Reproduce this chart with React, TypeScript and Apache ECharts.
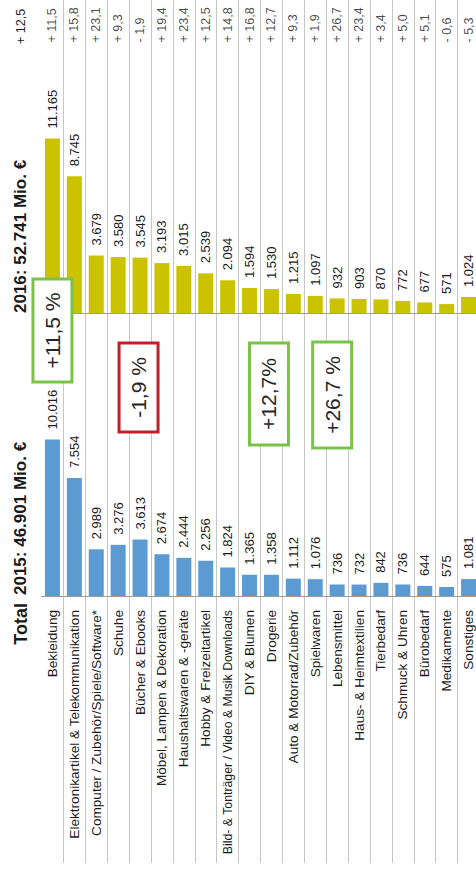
import React, { useEffect, useRef } from 'react';
import * as echarts from 'echarts';

const categories = [
  'Bekleidung',
  'Elektronikartikel & Telekommunikation',
  'Computer / Zubehör/Spiele/Software*',
  'Schuhe',
  'Bücher & Ebooks',
  'Möbel, Lampen & Dekoration',
  'Haushaltswaren & -geräte',
  'Hobby & Freizeitartikel',
  'Bild- & Tonträger / Video & Musik Downloads',
  'DIY & Blumen',
  'Drogerie',
  'Auto & Motorrad/Zubehör',
  'Spielwaren',
  'Lebensmittel',
  'Haus- & Heimtextilien',
  'Tierbedarf',
  'Schmuck & Uhren',
  'Bürobedarf',
  'Medikamente',
  'Sonstiges',
];

const sales2015 = [10016, 7554, 2989, 3276, 3613, 2674, 2444, 2256, 1824, 1365, 1358, 1112, 1076, 736, 732, 842, 736, 644, 575, 1081];
const sales2016 = [11165, 8745, 3679, 3580, 3545, 3193, 3015, 2539, 2094, 1594, 1530, 1215, 1097, 932, 903, 870, 772, 677, 571, 1024];
const changePct = [11.5, 15.8, 23.1, 9.3, -1.9, 19.4, 23.4, 12.5, 14.8, 16.8, 12.7, 9.3, 1.9, 26.7, 23.4, 3.4, 5.0, 5.1, -0.6, -5.3];

const total2015Label = '2015: 46.901 Mio. €';
const total2016Label = '2016: 52.741 Mio. €';
const totalLabel = 'Total';
const totalChange = 12.5;

const calloutCategories = ['Bekleidung', 'Bücher & Ebooks', 'Drogerie', 'Lebensmittel'];
const calloutTexts = ['+11,5 %', '-1,9 %', '+12,7%', '+26,7 %'];
const calloutPositive = [true, false, true, true];

const FONT = "'Liberation Sans', Arial, Helvetica, sans-serif";
const BLUE = '#5b9bd1';
const YELLOW = '#cbc200';
const GREEN = '#7cc24a';
const RED = '#c0202a';
const TEXT = '#1a1a1a';

const BAND_LEFT = 41.5;
const BAND_WIDTH = 438;
const SCALE_MAX = 12000;
const PLOT_H = 187.5;
const BASE16 = 313;
const BASE15 = 596;

const fmtNum = (n: number) =>
  n >= 1000 ? `${Math.floor(n / 1000)}.${String(n % 1000).padStart(3, '0')}` : String(n);
const fmtPct = (p: number) => `${p < 0 ? '-' : '+'} ${Math.abs(p).toFixed(1).replace('.', ',')}`;

export default function App() {
  const ref = useRef<HTMLDivElement>(null);

  useEffect(() => {
    const chart = echarts.init(ref.current!, null, { renderer: 'svg' });

    const grid = (top: number, height: number) => ({
      left: BAND_LEFT,
      width: BAND_WIDTH,
      top,
      height,
      containLabel: false,
      outerBoundsMode: 'none',
    });

    const valueLabel = {
      show: true,
      position: 'top',
      distance: 10,
      rotate: 90,
      align: 'left',
      verticalAlign: 'middle',
      fontSize: 13,
      color: TEXT,
      fontFamily: FONT,
      formatter: (p: any) => fmtNum(p.value),
    };

    const baseAxisLine = { show: true, onZero: false, lineStyle: { color: '#9c9c9c', width: 1 } };

    const option: any = {
      animation: false,
      backgroundColor: '#ffffff',
      grid: [grid(BASE16 - PLOT_H, PLOT_H), grid(BASE15 - PLOT_H, PLOT_H), grid(0, 863), grid(0, 43)],
      xAxis: [
        {
          gridIndex: 0,
          type: 'category',
          data: categories,
          axisLine: baseAxisLine,
          axisTick: { show: false },
          axisLabel: { show: false },
          splitLine: { show: false },
        },
        {
          gridIndex: 1,
          type: 'category',
          data: categories.map((c) =>
            c.length > 40 ? { value: c, textStyle: { fontSize: 12.3 } } : c
          ),
          axisLine: baseAxisLine,
          axisTick: { show: false },
          axisLabel: {
            show: true,
            interval: 0,
            rotate: 90,
            margin: 14,
            fontSize: 13.6,
            color: TEXT,
            fontFamily: FONT,
          },
          splitLine: { show: false },
        },
        {
          gridIndex: 2,
          type: 'category',
          data: categories,
          axisLine: { show: false },
          axisTick: { show: false },
          axisLabel: { show: false },
          splitLine: {
            show: true,
            showMinLine: false,
            interval: 0,
            lineStyle: { color: '#c6c6c6', width: 1 },
          },
        },
        {
          gridIndex: 3,
          type: 'category',
          data: categories,
          show: false,
        },
      ],
      yAxis: [0, 1, 2, 3].map((i) => ({
        gridIndex: i,
        type: 'value',
        min: 0,
        max: i < 2 ? SCALE_MAX : 1,
        show: false,
      })),
      series: [
        {
          name: '2016',
          type: 'bar',
          xAxisIndex: 0,
          yAxisIndex: 0,
          data: sales2016,
          barWidth: 15,
          itemStyle: { color: YELLOW },
          label: valueLabel,
          z: 3,
        },
        {
          name: '2015',
          type: 'bar',
          xAxisIndex: 1,
          yAxisIndex: 1,
          data: sales2015,
          barWidth: 15,
          itemStyle: { color: BLUE },
          label: valueLabel,
          z: 3,
        },
        {
          name: 'Veränderung',
          type: 'scatter',
          xAxisIndex: 3,
          yAxisIndex: 3,
          data: changePct.map(() => 0),
          symbolSize: 1,
          itemStyle: { color: 'rgba(0,0,0,0)' },
          label: {
            show: true,
            position: 'top',
            distance: 0,
            rotate: 90,
            align: 'left',
            verticalAlign: 'middle',
            fontSize: 12.5,
            color: TEXT,
            fontFamily: FONT,
            formatter: (p: any) => fmtPct(changePct[p.dataIndex]),
          },
        },
      ],
    };

    chart.setOption(option);

    const headerX = BAND_LEFT / 2;
    const boxW = 39;
    const boxY = [
      [279, 382],
      [343, 432],
      [343, 445],
      [342, 448],
    ];
    const boxDx = [0, -1.5, -2.5, -5];

    const callouts = calloutCategories.map((cat, i) => {
      const idx = categories.indexOf(cat);
      const pt = chart.convertToPixel({ gridIndex: 1 }, [idx, 0]) as number[];
      const cx = pt[0] + boxDx[i];
      const [y0, y1] = boxY[i];
      const color = calloutPositive[i] ? GREEN : RED;
      return {
        type: 'group',
        children: [
          {
            type: 'rect',
            z: 100,
            shape: { x: cx - boxW / 2, y: y0, width: boxW, height: y1 - y0 },
            style: { fill: '#ffffff', stroke: color, lineWidth: 3 },
          },
          {
            type: 'text',
            z: 101,
            x: cx,
            y: (y0 + y1) / 2,
            rotation: Math.PI / 2,
            style: {
              text: calloutTexts[i],
              fontSize: 21,
              fontFamily: FONT,
              fill: '#262626',
              align: 'center',
              verticalAlign: 'middle',
            },
          },
        ],
      };
    });

    const headerStyle = (text: string, align: string, size = 17, bold = true) => ({
      text,
      fontSize: size,
      fontWeight: bold ? 'bold' : 'normal',
      fontFamily: FONT,
      fill: TEXT,
      align,
      verticalAlign: 'middle',
    });

    chart.setOption({
      graphic: [
        {
          type: 'text',
          x: headerX,
          y: BASE16,
          rotation: Math.PI / 2,
          style: headerStyle(total2016Label, 'left'),
        },
        {
          type: 'text',
          x: headerX,
          y: BASE15 - 1,
          rotation: Math.PI / 2,
          style: headerStyle(total2015Label, 'left'),
        },
        {
          type: 'text',
          x: headerX,
          y: 603,
          rotation: Math.PI / 2,
          style: headerStyle(totalLabel, 'right', 18),
        },
        {
          type: 'text',
          x: headerX,
          y: 44,
          rotation: Math.PI / 2,
          style: headerStyle(fmtPct(totalChange), 'left', 12.5, false),
        },
        ...callouts,
      ],
    });

    return () => chart.dispose();
  }, []);

  return (
    <div
      ref={ref}
      style={{ position: 'absolute', left: 0, top: 0, width: 476, height: 870, background: '#fff' }}
    />
  );
}
